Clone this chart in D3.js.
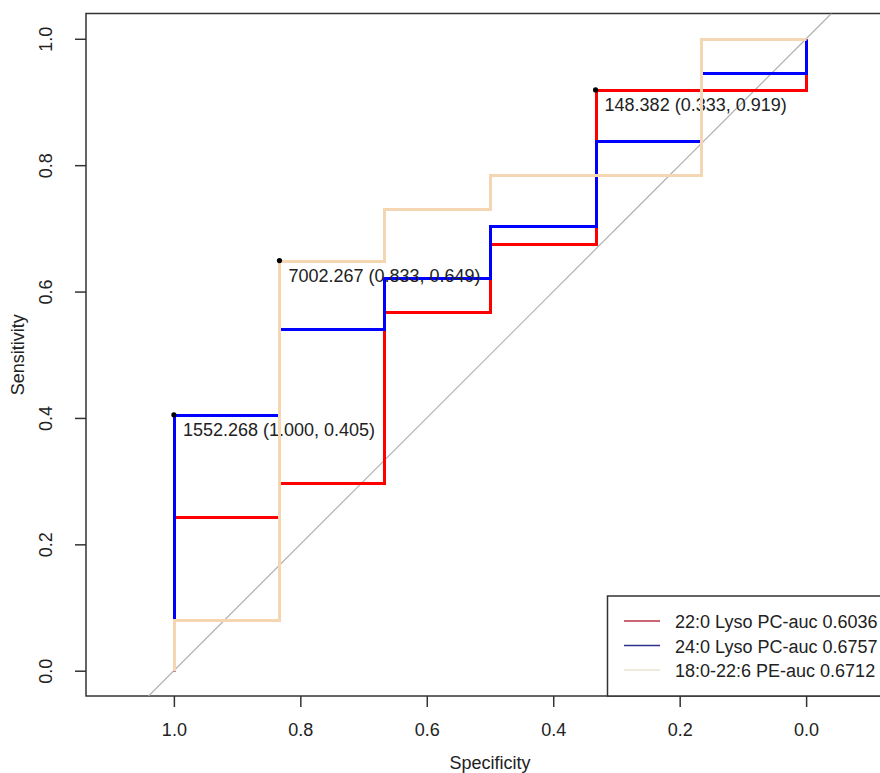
<!DOCTYPE html>
<html>
<head>
<meta charset="utf-8">
<script src="https://cdn.jsdelivr.net/npm/d3@7"></script>
<style>
  body { margin: 0; background: #fff; }
  svg text { font-family: "Liberation Sans", Arial, sans-serif; fill: #222; }
</style>
</head>
<body>
<div id="chart"></div>
<script>
// specificity steps (6 controls), left to right on the reversed axis
const specSteps = [1.000, 0.833, 0.667, 0.500, 0.333, 0.167, 0.000]

// sensitivity held over each specificity interval
const redSens  = [0.243, 0.297, 0.568, 0.676, 0.919, 0.919]
const blueSens = [0.405, 0.541, 0.622, 0.703, 0.838, 0.946]
const tanSens  = [0.081, 0.649, 0.730, 0.784, 0.784, 1.000]

const seriesNames = ["22:0 Lyso PC-auc 0.6036", "24:0 Lyso PC-auc 0.6757", "18:0-22:6 PE-auc 0.6712"]
const seriesColors = ["#ff0000", "#0000ff", "#f4d6b2"]
const legendColors = ["#b83545", "#2f2f8c", "#ece3d4"]

// best thresholds printed on the curves
const thrLabels = ["148.382", "1552.268", "7002.267"]
const thrSpec = [0.333, 1.000, 0.833]
const thrSens = [0.919, 0.405, 0.649]

const xTicks = [1.0, 0.8, 0.6, 0.4, 0.2, 0.0]
const yTicks = [0.0, 0.2, 0.4, 0.6, 0.8, 1.0]

const width = 880
const height = 773

let svg = d3.select("#chart")
            .append("svg")
            .attr("width", width)
            .attr("height", height)

// asp = 1, box runs past the right edge of the picture
let x = d3.scaleLinear().domain([1.139, -0.139]).range([86, 894])
let y = d3.scaleLinear().domain([-0.04, 1.04]).range([696, 13.5])

//box
svg.append("rect")
   .attr("x", x(1.139))
   .attr("y", y(1.04))
   .attr("width", x(-0.139) - x(1.139))
   .attr("height", y(-0.04) - y(1.04))
   .attr("fill", "none")
   .attr("stroke", "#333")
   .attr("stroke-width", 1.5)

//axes
let xAxis = d3.axisBottom(x).tickValues(xTicks).tickFormat(d3.format(".1f")).tickSizeOuter(0).tickSize(11).tickPadding(16)
let gx = svg.append("g")
   .attr("transform", "translate(0," + y(-0.04) + ")")
   .call(xAxis)
gx.select(".domain").remove()
gx.selectAll("line").attr("stroke", "#333").attr("stroke-width", 1.5)
gx.selectAll("text").style("font-size", "18px").attr("fill", "#222")

let yAxis = d3.axisLeft(y).tickValues(yTicks).tickFormat(d3.format(".1f")).tickSizeOuter(0).tickSize(11)
let gy = svg.append("g")
   .attr("transform", "translate(" + x(1.139) + ",0)")
   .call(yAxis)
gy.select(".domain").remove()
gy.selectAll("line").attr("stroke", "#333").attr("stroke-width", 1.5)
gy.selectAll("text")
  .style("font-size", "18px")
  .attr("x", null).attr("dy", null)
  .attr("text-anchor", "middle")
  .attr("transform", "translate(-40,0) rotate(-90)")
  .attr("dy", "0.36em")

svg.append("text")
   .attr("x", (x(1.139) + x(-0.139)) / 2)
   .attr("y", 769)
   .attr("text-anchor", "middle")
   .style("font-size", "18px")
   .text("Specificity")

svg.append("text")
   .attr("transform", "translate(24," + (y(1.04) + y(-0.04)) / 2 + ") rotate(-90)")
   .attr("text-anchor", "middle")
   .style("font-size", "18px")
   .text("Sensitivity")

//clip to the box
svg.append("clipPath").attr("id", "plotClip")
   .append("rect")
   .attr("x", x(1.139)).attr("y", y(1.04))
   .attr("width", x(-0.139) - x(1.139)).attr("height", y(-0.04) - y(1.04))

let plot = svg.append("g").attr("clip-path", "url(#plotClip)")

//chance diagonal
plot.append("line")
    .attr("x1", x(1.04)).attr("y1", y(-0.04))
    .attr("x2", x(-0.04)).attr("y2", y(1.04))
    .attr("stroke", "#b0b0b0")
    .attr("stroke-width", 1.2)

function stepPoints(levels) {
  let pts = [[specSteps[0], 0]]
  for (let i = 0; i < levels.length; i++) {
    pts.push([specSteps[i], levels[i]])
    pts.push([specSteps[i + 1], levels[i]])
  }
  pts.push([specSteps[specSteps.length - 1], 1])
  return pts
}

let line = d3.line().x(d => Math.round(x(d[0])) + 0.5).y(d => Math.round(y(d[1])) + 0.5)
let allSens = [redSens, blueSens, tanSens]

for (let k = 0; k < allSens.length; k++) {
  plot.append("path")
      .attr("d", line(stepPoints(allSens[k])))
      .attr("fill", "none")
      .attr("stroke", seriesColors[k])
      .attr("stroke-width", 3)

  plot.append("circle")
      .attr("cx", x(thrSpec[k]))
      .attr("cy", y(thrSens[k]))
      .attr("r", 2.6)
      .attr("fill", "#000")

  plot.append("text")
      .attr("x", x(thrSpec[k]) + 9)
      .attr("y", y(thrSens[k]) + 21)
      .style("font-size", "18px")
      .text(thrLabels[k] + " (" + thrSpec[k].toFixed(3) + ", " + thrSens[k].toFixed(3) + ")")
}

//Legend
let legend = svg.append("g").attr("id", "legend")
legend.append("rect")
      .attr("x", 607.5).attr("y", 596)
      .attr("width", x(-0.139) - 607.5).attr("height", y(-0.04) - 596)
      .attr("fill", "#fff")
      .attr("stroke", "#333")
      .attr("stroke-width", 1.5)

for (let i = 0; i < seriesNames.length; i++) {
  let ly = 621 + i * 24.5
  legend.append("line")
        .attr("x1", 624).attr("x2", 660)
        .attr("y1", ly).attr("y2", ly)
        .attr("stroke", legendColors[i])
        .attr("stroke-width", 1.3)
  legend.append("text")
        .attr("x", 675)
        .attr("y", ly + 7)
        .style("font-size", "18px")
        .text(seriesNames[i])
}
</script>
</body>
</html>
